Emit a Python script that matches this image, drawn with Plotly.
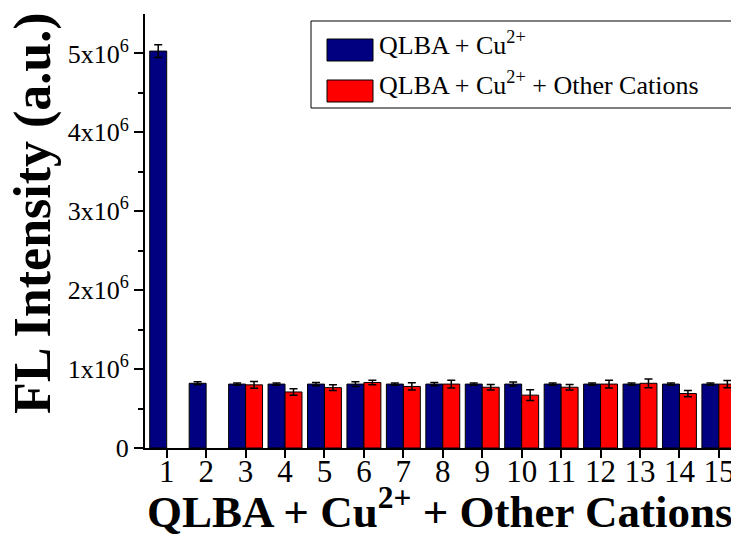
import plotly.graph_objects as go

categories = [str(i) for i in range(1, 16)]
blue_vals = [5.03e6, 0.82e6, 0.81e6, 0.81e6, 0.81e6, 0.81e6, 0.81e6, 0.81e6, 0.81e6, 0.81e6, 0.81e6, 0.81e6, 0.81e6, 0.81e6, 0.81e6]
blue_err = [0.08e6, 0.02e6, 0.015e6, 0.015e6, 0.02e6, 0.03e6, 0.015e6, 0.02e6, 0.015e6, 0.025e6, 0.015e6, 0.015e6, 0.015e6, 0.015e6, 0.015e6]
red_vals = [None, None, 0.80e6, 0.71e6, 0.765e6, 0.83e6, 0.78e6, 0.81e6, 0.77e6, 0.67e6, 0.77e6, 0.81e6, 0.82e6, 0.69e6, 0.81e6]
red_err = [None, None, 0.042e6, 0.04e6, 0.035e6, 0.03e6, 0.046e6, 0.05e6, 0.035e6, 0.068e6, 0.035e6, 0.05e6, 0.055e6, 0.04e6, 0.045e6]
y_tickvals = [0, 1e6, 2e6, 3e6, 4e6, 5e6]
y_ticktext = ["0", "1x10<sup>6</sup>", "2x10<sup>6</sup>", "3x10<sup>6</sup>", "4x10<sup>6</sup>", "5x10<sup>6</sup>"]
series_names = ["QLBA + Cu<sup>2+</sup>", "QLBA + Cu<sup>2+</sup> + Other Cations"]
x_title = "<b>QLBA + Cu<sup>2+</sup> + Other Cations</b>"
y_title = "<b>FL Intensity (a.u.)</b>"
colors = ["#000080", "#FF0000"]

x_num = list(range(1, 16))
FONT = "Liberation Serif"

# page has an 8px body margin; figure is sized so it fills the 739x537 window
OFF = 8
FW, FH = 739 - OFF, 537 - OFF
L, T = 145 - OFF, 14 - OFF
B = FH - (448 - OFF)
W_PLOT, H_PLOT = FW - L, FH - T - B

def px_x(p):  # page pixel -> paper
    return (p - OFF - L) / W_PLOT

def px_y(p):
    return (FH - B - (p - OFF)) / H_PLOT

fig = go.Figure()
fig.add_trace(go.Bar(x=x_num, y=blue_vals, name=series_names[0], marker=dict(color=colors[0], line=dict(color="black", width=1)),
                     error_y=dict(type="data", array=blue_err, color="black", thickness=1.5, width=4), showlegend=False))
fig.add_trace(go.Bar(x=x_num, y=red_vals, name=series_names[1], marker=dict(color=colors[1], line=dict(color="black", width=1)),
                     error_y=dict(type="data", array=red_err, color="black", thickness=1.5, width=4), showlegend=False))

# Manual legend (large swatches)
shapes = [dict(type="rect", xref="paper", yref="paper", x0=px_x(311), x1=px_x(735), y0=px_y(108), y1=px_y(21),
               line=dict(color="black", width=1), fillcolor="white")]
annotations = []
sw_y = [(39, 61), (80, 102)]
for i, (name, c) in enumerate(zip(series_names, colors)):
    y0p, y1p = sw_y[i]
    shapes.append(dict(type="rect", xref="paper", yref="paper", x0=px_x(327), x1=px_x(373),
                       y0=px_y(y1p), y1=px_y(y0p), line=dict(color="black", width=1), fillcolor=c))
    annotations.append(dict(xref="paper", yref="paper", x=px_x(377), y=px_y((y0p + y1p) / 2 - 7), text=name, showarrow=False,
                            xanchor="left", yanchor="middle", font=dict(family=FONT, size=26, color="black")))

# Axis titles
annotations.append(dict(xref="paper", yref="paper", x=px_x(440), y=px_y(508), text=x_title, showarrow=False,
                        xanchor="center", yanchor="middle", font=dict(family=FONT, size=45, color="black")))
annotations.append(dict(xref="paper", yref="paper", x=px_x(33), y=px_y(213), text=y_title, showarrow=False, textangle=-90,
                        xanchor="center", yanchor="middle", font=dict(family=FONT, size=52, color="black")))

fig.update_layout(
    width=FW, height=FH,
    margin=dict(l=L, r=0, t=T, b=B, autoexpand=False),
    plot_bgcolor="white", paper_bgcolor="white",
    barmode="group", bargap=0.14, bargroupgap=0,
    font=dict(family=FONT, color="black"),
    shapes=shapes, annotations=annotations,
    xaxis=dict(range=[0.45, 15.51], tickmode="array", tickvals=x_num, ticktext=categories,
               ticks="outside", ticklen=8, tickwidth=2, tickcolor="black", automargin=False, ticklabelstandoff=-13,
               showline=True, linecolor="black", linewidth=2, showgrid=False, zeroline=False,
               tickfont=dict(family=FONT, size=31, color="black")),
    xaxis2=dict(overlaying="x", side="top", anchor="y", range=[0.45, 15.51], tickmode="array", automargin=False,
                tickvals=[2, 3.5, 5, 6.5, 8, 9.5, 11, 12.5, 14], ticks="inside", ticklen=4, tickwidth=1.5, tickcolor="black",
                showticklabels=False, showline=True, linecolor="black", linewidth=2, showgrid=False, zeroline=False),
    yaxis=dict(range=[0, 5.5e6], tickmode="array", tickvals=y_tickvals, ticktext=y_ticktext,
               ticks="outside", ticklen=9, tickwidth=2, tickcolor="black", automargin=False, ticklabelstandoff=0,
               minor=dict(tickvals=[0.5e6, 1.5e6, 2.5e6, 3.5e6, 4.5e6], ticks="outside", ticklen=5, tickwidth=2, tickcolor="black"),
               showline=True, linecolor="black", linewidth=2, showgrid=False, zeroline=False,
               tickfont=dict(family=FONT, size=26, color="black")),
)

fig.write_html("out.html")
